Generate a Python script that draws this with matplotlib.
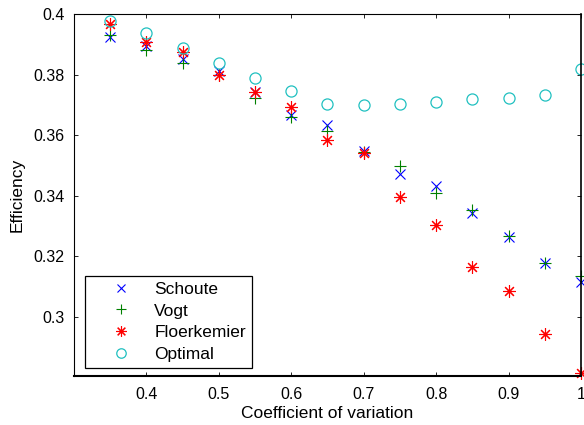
import numpy as np
import matplotlib
matplotlib.use('Agg')
import matplotlib.pyplot as plt

plt.rcParams['font.family'] = ['Liberation Sans', 'DejaVu Sans']

cv = [0.35, 0.40, 0.45, 0.50, 0.55, 0.60, 0.65, 0.70, 0.75, 0.80, 0.85, 0.90, 0.95, 1.00]

schoute = [0.3923, 0.3894, 0.3853, 0.3812, 0.3744, 0.3668, 0.3633, 0.3547,
           0.3472, 0.3432, 0.3341, 0.3263, 0.3177, 0.3116]
vogt = [0.3932, 0.3880, 0.3837, 0.3800, 0.3722, 0.3659, 0.3615, 0.3545,
        0.3498, 0.3408, 0.3351, 0.3265, 0.3179, 0.3133]
floerkemier = [0.3967, 0.3906, 0.3873, 0.3797, 0.3744, 0.3694, 0.3584, 0.3540,
               0.3395, 0.3302, 0.3165, 0.3086, 0.2943, 0.2815]
optimal = [0.3978, 0.3937, 0.3889, 0.3838, 0.3787, 0.3745, 0.3704, 0.3701,
           0.3703, 0.3709, 0.3718, 0.3723, 0.3731, 0.3820]

ASTERISK = (8, 2, 0)  # MATLAB-like '*': plus and cross combined


def plot_efficiency():
    """Scatter of efficiency against coefficient of variation."""
    fig = plt.figure(figsize=(5.84, 4.25), dpi=100)
    ax = fig.add_axes([0.127, 0.116, 0.868, 0.851])

    ax.plot(cv, schoute, 'x', color='#0000ff', ms=7, mew=0.8, label='Schoute', clip_on=False)
    ax.plot(cv, vogt, '+', color='#008000', ms=9, mew=0.8, label='Vogt', clip_on=False)
    ax.plot(cv, floerkemier, ls='none', marker=ASTERISK, color='#ff0000', ms=9, mew=0.8,
            label='Floerkemier', clip_on=False)
    ax.plot(cv, optimal, 'o', color='#20c0c0', ms=8, mew=0.9, mfc='none',
            label='Optimal', clip_on=False)

    ax.set_xlim(0.3005, 1.0)
    ax.set_ylim(0.2805, 0.4)
    ax.set_xticks([0.4, 0.5, 0.6, 0.7, 0.8, 0.9, 1.0])
    ax.set_xticklabels(['0.4', '0.5', '0.6', '0.7', '0.8', '0.9', '1'])
    ax.set_yticks([0.30, 0.32, 0.34, 0.36, 0.38, 0.40])
    ax.set_yticklabels(['0.3', '0.32', '0.34', '0.36', '0.38', '0.4'])
    ax.tick_params(direction='in', length=3, width=0.6, top=True, right=True,
                   labelsize=11.5)
    ax.tick_params(axis='x', pad=8)
    ax.tick_params(axis='y', pad=7)
    for side in ax.spines:
        ax.spines[side].set_linewidth(0.8)
    ax.spines['bottom'].set_linewidth(1.5)
    ax.spines['right'].set_linewidth(1.2)

    ax.set_xlabel('Coefficient of variation', fontsize=12.5, labelpad=3)
    ax.set_ylabel('Efficiency', fontsize=12.5, labelpad=6)

    leg = ax.legend(loc='lower left', bbox_to_anchor=(0.022, 0.022), fontsize=12.5,
                    fancybox=False, edgecolor='black', framealpha=1,
                    borderaxespad=0, handlelength=3.5, handletextpad=0.15,
                    labelspacing=0.38, borderpad=0.33, markerscale=0.85)
    leg.get_frame().set_linewidth(0.9)

    fig.savefig('out.png', dpi=100)


def main():
    plot_efficiency()


if __name__ == '__main__':
    main()
